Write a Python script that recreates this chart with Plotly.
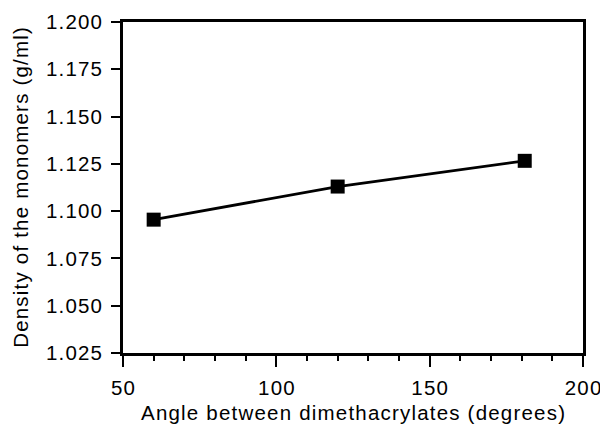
import plotly.graph_objects as go

angle = [60, 120, 181]
density = [1.0955, 1.1130, 1.1266]

x_ticks = [50, 100, 150, 200]
y_ticks = [1.025, 1.050, 1.075, 1.100, 1.125, 1.150, 1.175, 1.200]
y_tick_labels = ["1.025", "1.050", "1.075", "1.100", "1.125", "1.150", "1.175", "1.200"]
x_title = "Angle between dimethacrylates (degrees)"
y_title = "Density of the monomers (g/ml)"

LS = "letter-spacing:1.2px"
def sp(t):
    t = str(t)
    return f"<span style='{LS}'>{t[:-1]}</span>{t[-1]}"

fig = go.Figure()
fig.add_trace(go.Scatter(
    x=angle, y=density, mode="lines+markers",
    line=dict(color="black", width=2.8),
    marker=dict(symbol="square", size=14, color="black"),
    showlegend=False,
))

font = dict(family="Liberation Sans, Arial, sans-serif", size=20.5, color="black")

fig.update_layout(
    width=600, height=424,
    margin=dict(l=123, r=17, t=22, b=71),
    paper_bgcolor="white", plot_bgcolor="white",
    font=font,
    xaxis=dict(
        range=[50, 200], tickvals=x_ticks, ticktext=[sp(v) for v in x_ticks],
        ticks="outside", ticklen=11, tickwidth=2.2, tickcolor="black",
        minor=dict(dtick=10, ticks="outside", ticklen=5, tickwidth=2, tickcolor="black"),
        showline=True, linecolor="black", linewidth=2.8, mirror=True,
        showgrid=False, zeroline=False, ticklabeloverflow="allow",
        ticklabelstandoff=3, automargin=False,
        title=dict(text=sp(x_title), standoff=19, font=font),
    ),
    yaxis=dict(
        range=[1.025, 1.200], tickvals=y_ticks, ticktext=[sp(t) for t in y_tick_labels],
        ticks="outside", ticklen=9, tickwidth=2.2, tickcolor="black",
        showline=True, linecolor="black", linewidth=2.8, mirror=True,
        showgrid=False, zeroline=False, ticklabeloverflow="allow",
        ticklabelstandoff=5, automargin=False,
        title=dict(text=sp(y_title), standoff=12, font=font),
    ),
)

fig.write_html("out.html")
